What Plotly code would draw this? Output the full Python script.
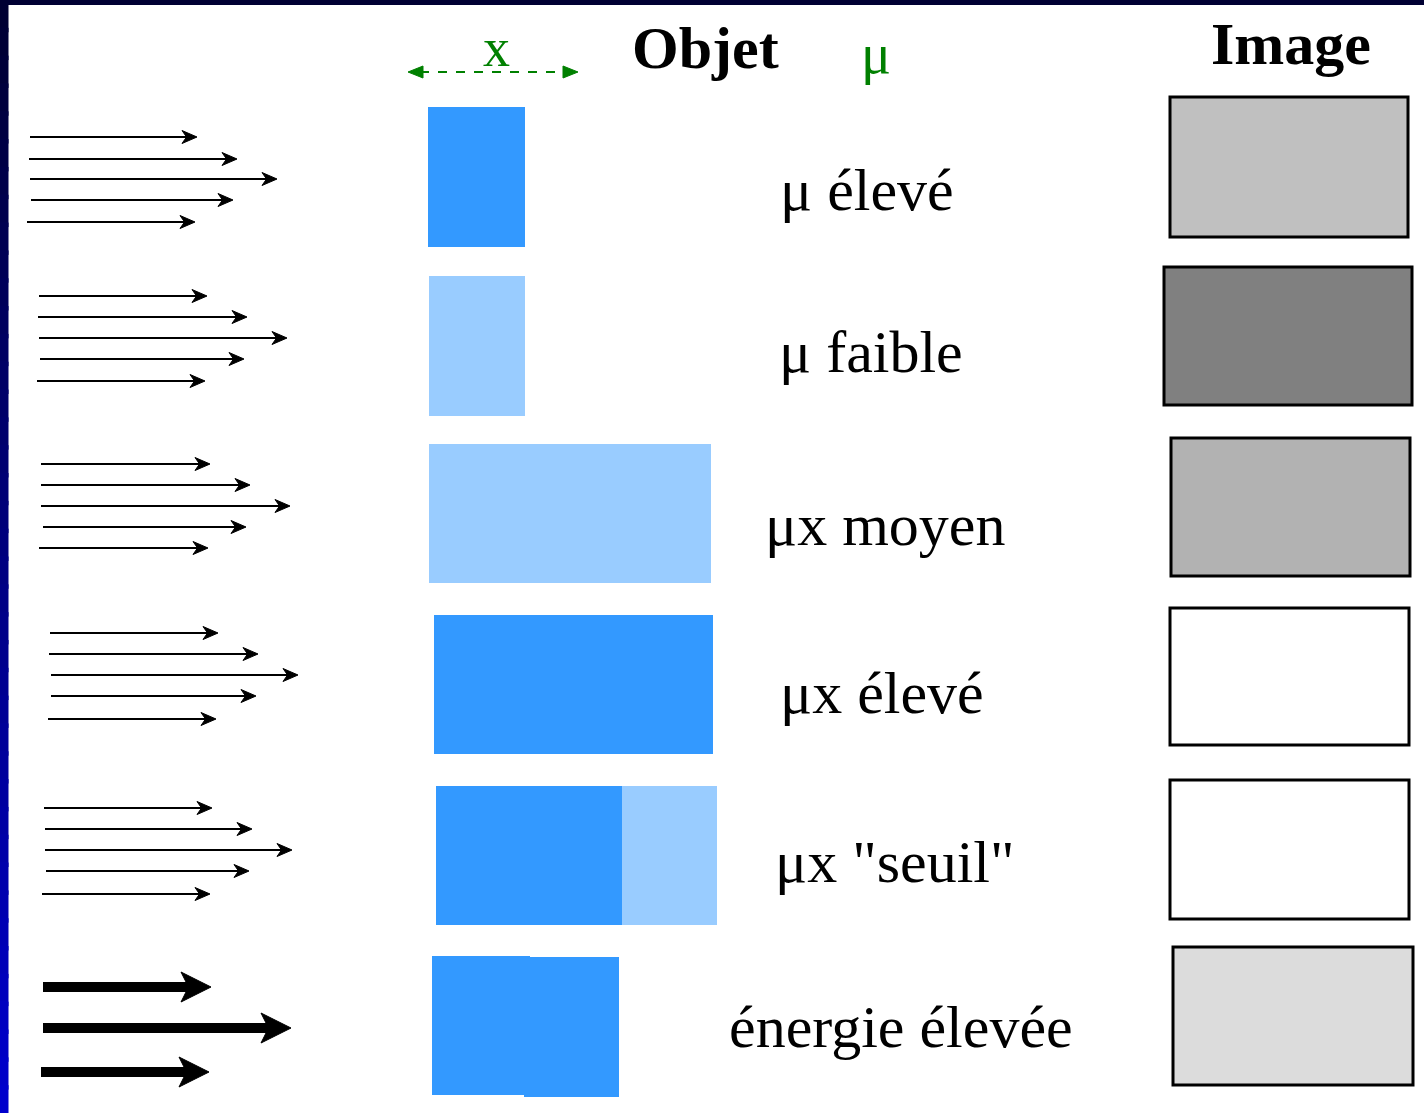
import plotly.graph_objects as go

W, H = 1424, 1113

# ---- data ----
labels = ["μ élevé", "μ faible", "μx moyen", "μx élevé", "μx \"seuil\"", "énergie élevée"]
label_x = [867, 871, 885, 882, 894, 901]
label_y = [190, 352, 525, 693, 862, 1027]

# object bars: (x0, x1, y0, y1, shade)
obj_bars = [
    (428, 525, 107, 247, "dark"),
    (429, 525, 276, 416, "light"),
    (429, 711, 444, 583, "light"),
    (434, 713, 615, 754, "dark"),
    (436, 622, 786, 925, "dark"),
    (622, 717, 786, 925, "light"),
    (432, 530, 956, 1095, "dark"),
    (524, 619, 957, 1097, "dark"),
]

# image boxes: (x0, x1, y0, y1, gray fill)
img_boxes = [
    (1170, 1408, 97, 237, "#c0c0c0"),
    (1164, 1412, 267, 405, "#808080"),
    (1171, 1410, 438, 576, "#b2b2b2"),
    (1170, 1409, 608, 745, "#ffffff"),
    (1170, 1409, 780, 919, "#ffffff"),
    (1173, 1413, 947, 1085, "#dcdcdc"),
]

# beam arrows: (x_start, x_end, y)
thin_arrows = [
    (30, 197, 137), (29, 237, 159), (30, 277, 179), (31, 233, 200), (27, 195, 222),
    (39, 207, 296), (38, 247, 317), (39, 287, 338), (40, 244, 359), (37, 205, 381),
    (41, 210, 464), (41, 250, 485), (41, 290, 506), (43, 246, 527), (39, 208, 548),
    (50, 218, 633), (49, 258, 654), (51, 298, 675), (51, 256, 696), (48, 216, 719),
    (44, 212, 808), (45, 252, 829), (45, 292, 850), (46, 249, 871), (42, 210, 894),
]
thick_arrows = [(43, 211, 987), (43, 291, 1028), (41, 209, 1072)]

shade_color = {"dark": "#3399ff", "light": "#99ccff"}
GREEN = "#008000"
SERIF = "Liberation Serif, Times New Roman, serif"

shapes = []
annotations = []


def head_path(xt, y, L, Hh, notch=0.3):
    return (f"M {xt},{y} L {xt-L},{y-Hh/2} L {xt-L*(1-notch)},{y} "
            f"L {xt-L},{y+Hh/2} Z")


# frame: left dark band with vertical gradient (overlapping strips), then top band
nseg = 40
for i in range(nseg):
    t = i / (nseg - 1)
    b = int(0x33 + t * (0xcc - 0x33))
    shapes.append(dict(type="rect", xref="paper", yref="paper", x0=0, x1=8 / W,
                       y0=max(0, 1 - (i + 1) / nseg - 0.004), y1=1 - i / nseg,
                       fillcolor=f"rgb(0,0,{b})", line=dict(color=f"rgb(0,0,{b})", width=1),
                       layer="above"))
shapes.append(dict(type="rect", xref="paper", yref="paper", x0=0, x1=1, y0=1 - 5 / H, y1=1,
                   fillcolor="#000033", line_width=0, layer="above"))

# object bars
for x0, x1, y0, y1, s in obj_bars:
    shapes.append(dict(type="rect", xref="x", yref="y", x0=x0, x1=x1, y0=y0, y1=y1,
                       fillcolor=shade_color[s], line_width=0))

# image boxes
for x0, x1, y0, y1, c in img_boxes:
    shapes.append(dict(type="rect", xref="x", yref="y", x0=x0, x1=x1, y0=y0, y1=y1,
                       fillcolor=c, line=dict(color="black", width=3)))

# thin arrows
for xs, xe, y in thin_arrows:
    shapes.append(dict(type="line", xref="x", yref="y", x0=xs, x1=xe - 6, y0=y, y1=y,
                       line=dict(color="black", width=2)))
    shapes.append(dict(type="path", xref="x", yref="y", path=head_path(xe, y, 15, 13),
                       fillcolor="black", line=dict(color="black", width=1)))

# thick arrows
for xs, xe, y in thick_arrows:
    shapes.append(dict(type="line", xref="x", yref="y", x0=xs, x1=xe - 20, y0=y, y1=y,
                       line=dict(color="black", width=10)))
    shapes.append(dict(type="path", xref="x", yref="y", path=head_path(xe, y, 30, 30, 0.25),
                       fillcolor="black", line=dict(color="black", width=1)))

# green dashed double arrow (thickness x)
shapes.append(dict(type="line", xref="x", yref="y", x0=420, x1=566, y0=72, y1=72,
                   line=dict(color=GREEN, width=2, dash="dash")))
shapes.append(dict(type="path", xref="x", yref="y", path=head_path(578, 72, 15, 12, 0.0),
                   fillcolor=GREEN, line=dict(color=GREEN, width=1)))
shapes.append(dict(type="path", xref="x", yref="y",
                   path="M 408,72 L 423,66 L 423,78 Z",
                   fillcolor=GREEN, line=dict(color=GREEN, width=1)))

# headers
annotations.append(dict(x=705, y=48, xref="x", yref="y", text="<b>Objet</b>", showarrow=False,
                        font=dict(family=SERIF, size=60, color="black")))
annotations.append(dict(x=1291, y=44, xref="x", yref="y", text="<b>Image</b>", showarrow=False,
                        font=dict(family=SERIF, size=60, color="black")))
annotations.append(dict(x=496, y=48, xref="x", yref="y", text="x", showarrow=False,
                        font=dict(family=SERIF, size=54, color=GREEN)))
annotations.append(dict(x=876, y=54, xref="x", yref="y", text="μ", showarrow=False,
                        font=dict(family=SERIF, size=56, color=GREEN)))

for t, x, y in zip(labels, label_x, label_y):
    annotations.append(dict(x=x, y=y, xref="x", yref="y", text=t, showarrow=False,
                            font=dict(family=SERIF, size=60, color="black")))

fig = go.Figure()
fig.add_trace(go.Scatter(x=[0, W], y=[0, H], mode="markers", marker=dict(opacity=0),
                         hoverinfo="skip", showlegend=False))
fig.update_layout(
    width=W, height=H, margin=dict(l=0, r=0, t=0, b=0),
    paper_bgcolor="white", plot_bgcolor="white",
    xaxis=dict(range=[0, W], visible=False, fixedrange=True),
    yaxis=dict(range=[H, 0], visible=False, fixedrange=True),
    shapes=shapes, annotations=annotations, showlegend=False,
)
fig.write_html("out.html", config={"displayModeBar": False},
               post_script="document.body.style.margin='0';document.body.style.overflow='hidden';")
